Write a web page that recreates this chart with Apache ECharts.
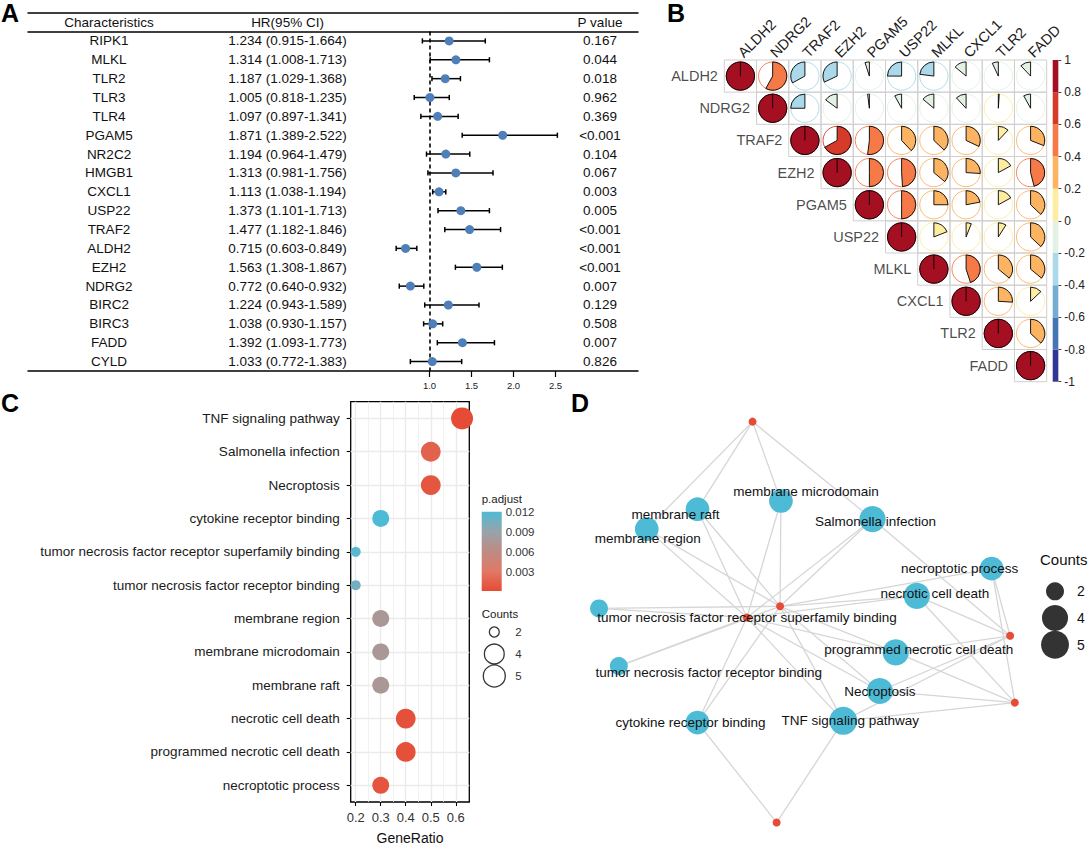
<!DOCTYPE html>
<html>
<head>
<meta charset="utf-8">
<script src="https://cdn.jsdelivr.net/npm/echarts@6.0.0/dist/echarts.min.js"></script>
<style>
html,body{margin:0;padding:0;background:#ffffff;}
#chart{width:1088px;height:846px;}
</style>
</head>
<body>
<div id="chart"></div>
<script>
// ---------- Panel A: forest plot ----------
const forestGenes = ['RIPK1','MLKL','TLR2','TLR3','TLR4','PGAM5','NR2C2','HMGB1','CXCL1','USP22','TRAF2','ALDH2','EZH2','NDRG2','BIRC2','BIRC3','FADD','CYLD'];
const forestHR   = [1.234,1.314,1.187,1.005,1.097,1.871,1.194,1.313,1.113,1.373,1.477,0.715,1.563,0.772,1.224,1.038,1.392,1.033];
const forestLow  = [0.915,1.008,1.029,0.818,0.897,1.389,0.964,0.981,1.038,1.101,1.182,0.603,1.308,0.640,0.943,0.930,1.093,0.772];
const forestHigh = [1.664,1.713,1.368,1.235,1.341,2.522,1.479,1.756,1.194,1.713,1.846,0.849,1.867,0.932,1.589,1.157,1.773,1.383];
const forestP    = ['0.167','0.044','0.018','0.962','0.369','<0.001','0.104','0.067','0.003','0.005','<0.001','<0.001','<0.001','0.007','0.129','0.508','0.007','0.826'];
const forestTicks = [1.0, 1.5, 2.0, 2.5];
const forestHeaders = ['Characteristics', 'HR(95% CI)', 'P value'];

// ---------- Panel B: correlation matrix (upper triangle, row by row) ----------
const corrGenes = ['ALDH2','NDRG2','TRAF2','EZH2','PGAM5','USP22','MLKL','CXCL1','TLR2','FADD'];
const corrUpper = [
  [1, 0.58, -0.33, -0.32, -0.05, -0.25, -0.23, -0.14, -0.07, -0.12],
  [1, -0.25, -0.15, -0.02, -0.08, -0.14, -0.12, 0.01, -0.08],
  [1, 0.67, 0.52, 0.38, 0.37, 0.32, 0.12, 0.31],
  [1, 0.50, 0.49, 0.36, 0.26, 0.17, 0.46],
  [1, 0.50, 0.25, 0.22, 0.17, 0.37],
  [1, 0.19, 0.06, 0.09, 0.37],
  [1, 0.45, 0.36, 0.36],
  [1, 0.26, 0.13],
  [1, 0.37],
  [1]
];
const corrBreaks = [-1, -0.8, -0.6, -0.4, -0.2, 0, 0.2, 0.4, 0.6, 0.8, 1];

// ---------- Panel C: enrichment dot plot ----------
const goTerms = ['TNF signaling pathway','Salmonella infection','Necroptosis','cytokine receptor binding','tumor necrosis factor receptor superfamily binding','tumor necrosis factor receptor binding','membrane region','membrane microdomain','membrane raft','necrotic cell death','programmed necrotic cell death','necroptotic process'];
const goGeneRatio = [0.625, 0.5, 0.5, 0.3, 0.2, 0.2, 0.3, 0.3, 0.3, 0.4, 0.4, 0.3];
const goCount = [5, 4, 4, 3, 2, 2, 3, 3, 3, 4, 4, 3];
const goPadj = [0.0002, 0.0017, 0.0009, 0.0121, 0.0116, 0.0106, 0.0077, 0.0077, 0.0077, 0.0005, 0.0005, 0.0008];
const goRatioTicks = [0.2, 0.3, 0.4, 0.5, 0.6];
const goRatioMinor = [0.25, 0.35, 0.45, 0.55];
const padjTicks = [0.003, 0.006, 0.009, 0.012];
const countLegendC = [2, 4, 5];

// ---------- Panel D: gene-concept network (layout coordinates) ----------
const netGeneIds = ['g1','g2','g3','g4','g5','g6'];
const netGeneXY = [[3.78,9.84],[4.42,5.39],[3.65,5.12],[9.77,4.68],[9.88,3.07],[4.34,0.18]];
const netTerms = ['membrane raft','membrane region','membrane microdomain','Salmonella infection','necroptotic process','necrotic cell death','tumor necrosis factor receptor superfamily binding','tumor necrosis factor receptor binding','programmed necrotic cell death','Necroptosis','cytokine receptor binding','TNF signaling pathway'];
const netTermXY = [[2.50,7.73],[1.32,7.25],[4.44,7.93],[6.57,7.49],[9.34,6.30],[7.60,5.64],[0.21,5.34],[0.67,3.95],[7.11,4.28],[6.74,3.35],[2.50,2.59],[5.89,2.63]];
const netTermGenes = [
  ['g1','g2','g3'], ['g1','g2','g3'], ['g1','g2','g3'], ['g1','g2','g3','g4'],
  ['g2','g4','g5'], ['g2','g3','g4','g5'], ['g2','g3'], ['g2','g3'],
  ['g2','g3','g4','g5'], ['g2','g3','g4','g5'], ['g2','g3','g6'], ['g2','g3','g4','g5','g6']
];
const countLegendD = [2, 4, 5];

// ---------- styling ----------
const FONT = '"Liberation Sans", Arial, Helvetica, sans-serif';
const corrPalette = ['#313695','#4575B4','#74ADD1','#ABD9E9','#E3F1E4','#FEEDA0','#FDB462','#F57A48','#D63A2B','#A50F22'];
const padjColors = ['#E64B35','#E17966','#BD8B83','#98A3AA','#4DBBD5'];
const netLabelOffset = [[-22,5],[1,9],[25,-9],[3,2],[-32,0],[18,-2],[148,9],[90,6],[23,-3],[0,1],[-7,0],[7,0]];

function corrColor(r){
  const k = Math.min(9, Math.max(0, Math.floor((r + 1) / 0.2 + 1e-9)));
  return corrPalette[k];
}
function areaSize(c, cmin, cmax, dmin, dmax){
  return dmin + (dmax - dmin) * Math.sqrt((c - cmin) / (cmax - cmin));
}
const sizeC = c => areaSize(c, 2, 5, 10, 22);
const sizeD = c => areaSize(c, 2, 5, 18, 28);

// ---------- derived data ----------
const forestHRText = forestHR.map((v, i) => v.toFixed(3) + ' (' + forestLow[i].toFixed(3) + '-' + forestHigh[i].toFixed(3) + ')');
const whiskerData = forestLow.map((lo, i) => [lo, forestHigh[i], i]);
const dotData = forestHR.map((v, i) => [v, i]);

const corrCells = [];
corrUpper.forEach((row, i) => row.forEach((r, k) => corrCells.push([i + k, i, r])));
const corrBins = corrPalette.map((c, k) => [0, corrBreaks[k], corrBreaks[k + 1], k]);

const goData = goTerms.map((t, i) => [goGeneRatio[i], t, goCount[i], goPadj[i]]);
const padjMin = Math.min.apply(null, goPadj);
const padjMax = Math.max.apply(null, goPadj);

const netNodes = [];
netGeneIds.forEach((g, i) => netNodes.push({
  name: g, value: netGeneXY[i], symbolSize: 8,
  itemStyle: {color: '#E64B35'}, label: {show: false}
}));
netTerms.forEach((t, i) => netNodes.push({
  name: t, value: netTermXY[i], symbolSize: sizeD(netTermGenes[i].length),
  itemStyle: {color: '#4DBBD5'},
  label: {show: true, position: 'inside', offset: netLabelOffset[i], formatter: t, fontSize: 13.5, color: '#111', fontFamily: FONT}
}));
const netLinks = [];
netTerms.forEach((t, i) => netTermGenes[i].forEach(g => netLinks.push({source: t, target: g})));

// ---------- render functions ----------
function renderWhisker(params, api){
  const p1 = api.coord([api.value(0), api.value(2)]);
  const p2 = api.coord([api.value(1), api.value(2)]);
  const st = {stroke: '#000', lineWidth: 1.5};
  return {type: 'group', children: [
    {type: 'line', shape: {x1: p1[0], y1: p1[1], x2: p2[0], y2: p2[1]}, style: st},
    {type: 'line', shape: {x1: p1[0], y1: p1[1] - 2.6, x2: p1[0], y2: p1[1] + 2.6}, style: st},
    {type: 'line', shape: {x1: p2[0], y1: p2[1] - 2.6, x2: p2[0], y2: p2[1] + 2.6}, style: st}
  ]};
}
function renderCorr(params, api){
  const c = api.value(0), ri = api.value(1), r = api.value(2);
  const p = api.coord([c, ri]);
  const s = api.size([1, 1]);
  const w = s[0], h = s[1];
  const rad = Math.min(w, h) * 0.44;
  const col = corrColor(r);
  const children = [
    {type: 'rect', shape: {x: p[0] - w / 2, y: p[1] - h / 2, width: w, height: h}, style: {fill: 'rgba(0,0,0,0)', stroke: '#cfcfcf', lineWidth: 1}},
    {type: 'circle', shape: {cx: p[0], cy: p[1], r: rad}, style: {fill: 'rgba(0,0,0,0)', stroke: col, lineWidth: 0.9}}
  ];
  const ang = 2 * Math.PI * Math.min(Math.abs(r), 0.9999);
  const start = -Math.PI / 2;
  const end = r >= 0 ? start + ang : start - ang;
  if (Math.abs(r) >= 0.999) {
    children.push({type: 'circle', shape: {cx: p[0], cy: p[1], r: rad}, style: {fill: col, stroke: '#000', lineWidth: 0.9}});
    children.push({type: 'line', shape: {x1: p[0], y1: p[1], x2: p[0], y2: p[1] - rad}, style: {stroke: '#000', lineWidth: 0.9}});
  } else {
    children.push({type: 'sector', shape: {cx: p[0], cy: p[1], r: rad, r0: 0, startAngle: start, endAngle: end, clockwise: r >= 0}, style: {fill: col, stroke: '#000', lineWidth: 0.9}});
  }
  return {type: 'group', children: children};
}
function renderCorrBar(params, api){
  const p1 = api.coord([0, api.value(1)]);
  const p2 = api.coord([0, api.value(2)]);
  const w = api.size([1, 0])[0];
  return {type: 'rect', shape: {x: p1[0] - w / 2, y: p2[1], width: w, height: p1[1] - p2[1]}, style: {fill: corrPalette[api.value(3)], stroke: null}};
}
function renderPadjBar(params, api){
  const p1 = api.coord([0, api.value(1)]);
  const p2 = api.coord([0, api.value(2)]);
  const w = api.size([1, 0])[0];
  const stops = padjColors.map((c, k) => ({offset: k / (padjColors.length - 1), color: c}));
  return {type: 'rect', shape: {x: p1[0] - w / 2, y: p2[1], width: w, height: p1[1] - p2[1]},
    style: {fill: new echarts.graphic.LinearGradient(0, 1, 0, 0, stops), stroke: null}};
}

const hidden = {axisLine: {show: false}, axisTick: {show: false}, axisLabel: {show: false}, splitLine: {show: false}};
function txt(text, x, y, size, extra){
  return Object.assign({type: 'text', x: x, y: y, style: Object.assign({text: text, font: size + 'px ' + FONT, fill: '#111', textAlign: 'center', textVerticalAlign: 'middle', align: 'center', verticalAlign: 'middle'}, extra || {})});
}
const letterFont = 'bold 25px ' + FONT;

const option = {
  animation: false,
  backgroundColor: '#ffffff',
  textStyle: {fontFamily: FONT},
  graphic: [
    {type: 'text', left: 1, top: 0, style: {text: 'A', font: letterFont, fill: '#000'}},
    {type: 'text', left: 667, top: 0, style: {text: 'B', font: letterFont, fill: '#000'}},
    {type: 'text', left: 1, top: 390, style: {text: 'C', font: letterFont, fill: '#000'}},
    {type: 'text', left: 571, top: 390, style: {text: 'D', font: letterFont, fill: '#000'}},
    txt(forestHeaders[0], 109, 22, 13.5),
    txt(forestHeaders[1], 287.5, 22, 13.5),
    txt(forestHeaders[2], 600, 22, 13.5),
    txt('p.adjust', 481.7, 499, 11.5, {textAlign: 'left', align: 'left', fill: '#222'}),
    txt('Counts', 481.7, 614, 11.5, {textAlign: 'left', align: 'left', fill: '#222'}),
    txt('Counts', 1040, 559, 15, {textAlign: 'left', align: 'left', fill: '#111'})
  ],
  grid: [
    {left: 28, top: 31.5, width: 610, height: 339.5},
    {left: 724.3, top: 60, width: 322.4, height: 321.7},
    {left: 1052.7, top: 60, width: 12.3, height: 321.7},
    {left: 350.7, top: 401.7, width: 118.6, height: 401.6, show: true, borderColor: '#000', borderWidth: 1.3, backgroundColor: '#fff'},
    {left: 481.7, top: 511.7, width: 20, height: 80.6},
    {left: 484.3, top: 621, width: 20, height: 66},
    {left: 590, top: 415, width: 430, height: 415},
    {left: 1040, top: 578, width: 30, height: 80}
  ],
  xAxis: [
    {gridIndex: 0, type: 'value', min: -3.78, max: 3.482, position: 'bottom',
      axisLine: {show: true, lineStyle: {color: '#000', width: 1.5}},
      axisTick: {show: true, customValues: forestTicks, length: 6, lineStyle: {color: '#000', width: 1.2}},
      axisLabel: {show: true, customValues: forestTicks, formatter: v => Number(v).toFixed(1), fontSize: 9.5, color: '#222', margin: 9},
      splitLine: {show: false}},
    {gridIndex: 0, type: 'value', min: -3.78, max: 3.482, position: 'top', offset: 0,
      axisLine: {show: true, lineStyle: {color: '#000', width: 1.5}}, axisTick: {show: false}, axisLabel: {show: false}, splitLine: {show: false}},
    {gridIndex: 0, type: 'value', min: -3.78, max: 3.482, position: 'top', offset: 18.8,
      axisLine: {show: true, lineStyle: {color: '#000', width: 1.5}}, axisTick: {show: false}, axisLabel: {show: false}, splitLine: {show: false}},
    {gridIndex: 1, type: 'category', data: corrGenes, position: 'top',
      axisLine: {show: false}, axisTick: {show: false}, splitLine: {show: false},
      axisLabel: {show: true, interval: 0, rotate: -45, margin: 5, fontSize: 14.5, color: '#1a1a1a'}},
    Object.assign({gridIndex: 2, type: 'category', data: ['bar']}, hidden),
    {gridIndex: 3, type: 'value', min: 0.18, max: 0.654,
      axisLine: {show: false},
      axisTick: {show: true, customValues: goRatioTicks, length: 4, lineStyle: {color: '#000', width: 1.1}},
      axisLabel: {show: true, customValues: goRatioTicks, formatter: v => Number(v).toFixed(1), fontSize: 13, color: '#333', margin: 9},
      splitLine: {show: false},
      name: 'GeneRatio', nameLocation: 'middle', nameGap: 29, nameTextStyle: {fontSize: 14, color: '#111'}},
    Object.assign({gridIndex: 4, type: 'category', data: ['bar']}, hidden),
    Object.assign({gridIndex: 5, type: 'value', min: -1, max: 1}, hidden),
    Object.assign({gridIndex: 6, type: 'value', min: 0, max: 10}, hidden),
    Object.assign({gridIndex: 7, type: 'value', min: -1, max: 1}, hidden)
  ],
  yAxis: [
    {gridIndex: 0, type: 'category', data: forestGenes, inverse: true, position: 'left',
      axisLine: {show: false}, axisTick: {show: false}, splitLine: {show: false},
      axisLabel: {inside: true, margin: 81, align: 'center', fontSize: 13.5, color: '#111', interval: 0}},
    {gridIndex: 0, type: 'category', data: forestHRText, inverse: true, position: 'left',
      axisLine: {show: false}, axisTick: {show: false}, splitLine: {show: false},
      axisLabel: {inside: true, margin: 259.5, align: 'center', fontSize: 13.5, color: '#111', interval: 0}},
    {gridIndex: 0, type: 'category', data: forestP, inverse: true, position: 'right',
      axisLine: {show: false}, axisTick: {show: false}, splitLine: {show: false},
      axisLabel: {inside: true, margin: 38, align: 'center', fontSize: 13.5, color: '#111', interval: 0}},
    Object.assign({gridIndex: 1, type: 'category', data: corrGenes, inverse: true}, hidden),
    {gridIndex: 2, type: 'value', min: -1, max: 1, interval: 0.2, position: 'right',
      axisLine: {show: false}, splitLine: {show: false},
      axisTick: {show: true, length: 3, lineStyle: {color: '#444', width: 1}},
      axisLabel: {show: true, margin: 6, fontSize: 12, color: '#222', formatter: v => { const r = Math.round(v * 10) / 10; return r === 0 ? '0' : String(r); }}},
    {gridIndex: 3, type: 'category', data: goTerms, inverse: true,
      axisLine: {show: false}, splitLine: {show: false},
      axisTick: {show: true, length: 4, alignWithLabel: true, lineStyle: {color: '#000', width: 1.1}},
      axisLabel: {show: true, interval: 0, margin: 11, fontSize: 13.5, color: '#1a1a1a'}},
    {gridIndex: 4, type: 'value', min: 0, max: padjMax, position: 'left',
      axisLine: {show: false}, splitLine: {show: false}, axisLabel: {show: false},
      axisTick: {show: true, inside: true, length: 4, customValues: padjTicks, lineStyle: {color: '#fff', width: 1}}},
    {gridIndex: 4, type: 'value', min: 0, max: padjMax, position: 'right',
      axisLine: {show: false}, splitLine: {show: false},
      axisTick: {show: true, inside: true, length: 4, customValues: padjTicks, lineStyle: {color: '#fff', width: 1}},
      axisLabel: {show: true, customValues: padjTicks, margin: 4, fontSize: 11.5, color: '#333', formatter: v => Number(v).toFixed(3)}},
    {gridIndex: 5, type: 'category', data: countLegendC.map(String), inverse: true, position: 'right',
      axisLine: {show: false}, axisTick: {show: false}, splitLine: {show: false},
      axisLabel: {show: true, margin: 11, fontSize: 11.5, color: '#333'}},
    Object.assign({gridIndex: 6, type: 'value', min: 0, max: 10}, hidden),
    {gridIndex: 7, type: 'category', data: countLegendD.map(String), inverse: true, position: 'right',
      axisLine: {show: false}, axisTick: {show: false}, splitLine: {show: false},
      axisLabel: {show: true, margin: 7, fontSize: 14, color: '#111'}}
  ],
  visualMap: [
    {type: 'continuous', show: false, seriesIndex: 6, dimension: 3, min: padjMin, max: padjMax, inRange: {color: padjColors}}
  ],
  series: [
    {type: 'custom', xAxisIndex: 0, yAxisIndex: 0, data: whiskerData, encode: {x: [0, 1], y: 2}, renderItem: renderWhisker, z: 2, silent: true, clip: false},
    {type: 'scatter', xAxisIndex: 0, yAxisIndex: 0, data: dotData, symbolSize: 9, itemStyle: {color: '#4F7FB9', opacity: 1}, z: 3, silent: true,
      markLine: {silent: true, symbol: ['none', 'none'], z: 1, label: {show: false},
        lineStyle: {color: '#000', type: [4, 3], width: 1.6}, data: [{xAxis: 1}]}},
    {type: 'custom', xAxisIndex: 3, yAxisIndex: 3, data: corrCells, encode: {x: 0, y: 1}, renderItem: renderCorr, silent: true, clip: false},
    {type: 'scatter', xAxisIndex: 3, yAxisIndex: 3, data: corrGenes.map((g, i) => [i, i]), symbolSize: 1, itemStyle: {color: 'rgba(0,0,0,0)'}, silent: true,
      label: {show: true, position: 'left', distance: 22, fontSize: 14.5, color: '#1a1a1a', formatter: p => corrGenes[p.value[1]]}},
    {type: 'custom', xAxisIndex: 4, yAxisIndex: 4, data: corrBins, encode: {x: 0, y: [1, 2]}, renderItem: renderCorrBar, silent: true},
    {type: 'scatter', xAxisIndex: 5, yAxisIndex: 5, data: goData, symbolSize: 0, itemStyle: {opacity: 0}, silent: true, z: 1,
      markLine: {silent: true, symbol: ['none', 'none'], z: 1, label: {show: false}, animation: false,
        lineStyle: {color: '#ebebeb', type: 'solid', width: 1.4},
        data: goRatioTicks.map(v => ({xAxis: v}))
          .concat(goRatioMinor.map(v => ({xAxis: v, lineStyle: {color: '#efefef', width: 0.8, type: 'solid'}})))
          .concat(goTerms.map(t => ({yAxis: t})))}},
    {type: 'scatter', xAxisIndex: 5, yAxisIndex: 5, data: goData, symbolSize: v => sizeC(v[2]), z: 3, silent: true, itemStyle: {opacity: 1}},
    {type: 'custom', xAxisIndex: 6, yAxisIndex: 6, data: [[0, padjMin, padjMax]], encode: {x: 0, y: [1, 2]}, renderItem: renderPadjBar, silent: true},
    {type: 'scatter', xAxisIndex: 7, yAxisIndex: 8, data: countLegendC.map(c => [0, String(c), c]), symbolSize: v => sizeC(v[2]), silent: true,
      itemStyle: {color: 'rgba(0,0,0,0)', borderColor: '#000', borderWidth: 1.3}},
    {type: 'graph', coordinateSystem: 'cartesian2d', xAxisIndex: 8, yAxisIndex: 9, layout: 'none', roam: false, silent: true,
      data: netNodes, links: netLinks, symbol: 'circle',
      lineStyle: {color: '#d6d6d6', width: 1.3, opacity: 1, curveness: 0},
      emphasis: {disabled: true}},
    {type: 'scatter', xAxisIndex: 9, yAxisIndex: 10, data: countLegendD.map(c => [0, String(c), c]), symbolSize: v => sizeD(v[2]), silent: true,
      itemStyle: {color: '#000'}}
  ]
};

const chart = echarts.init(document.getElementById('chart'), null, {renderer: 'svg', width: 1088, height: 846});
chart.setOption(option);
</script>
</body>
</html>
